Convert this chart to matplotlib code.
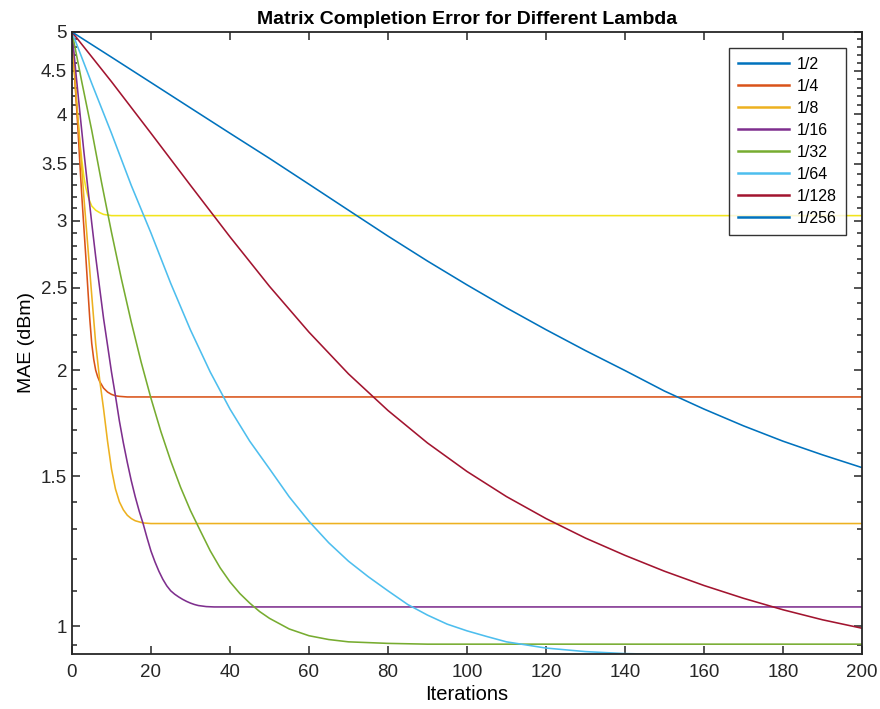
import matplotlib
matplotlib.use("Agg")
import matplotlib.pyplot as plt
from matplotlib.lines import Line2D
from matplotlib.ticker import FixedLocator, NullFormatter

plt.rcParams['font.family'] = ['Liberation Sans', 'DejaVu Sans']

# values (MAE in dBm vs. iteration)
labels = ['1/2', '1/4', '1/8', '1/16', '1/32', '1/64', '1/128', '1/256']
legend_colors = ['#0072BD', '#D95319', '#EDB120', '#7E2F8E',
                 '#77AC30', '#4DBEEE', '#A2142F', '#0072BD']
line_colors = ['#F2E41C', '#D95319', '#EDB120', '#7E2F8E',
               '#77AC30', '#4DBEEE', '#A2142F', '#0072BD']

x_half = [0, 0.5, 1, 1.5, 2, 2.5, 3, 3.5, 4, 4.5, 5, 6, 7, 8, 9, 10, 200]
y_half = [5, 4.55, 4.2, 3.93, 3.7, 3.53, 3.38, 3.28, 3.21, 3.16, 3.12, 3.085,
          3.065, 3.05, 3.045, 3.04, 3.04]

x_quarter = [0, 0.5, 1, 1.5, 2, 2.5, 3, 3.5, 4, 4.5, 5, 5.5, 6, 6.5, 7, 8, 9, 10,
             11, 12, 14, 200]
y_quarter = [5, 4.6, 4.2, 3.85, 3.5, 3.2, 2.95, 2.72, 2.5, 2.3, 2.15, 2.06, 2.0,
             1.965, 1.94, 1.905, 1.885, 1.873, 1.866, 1.863, 1.86, 1.86]

x_eighth = [0, 1, 2, 3, 4, 5, 6, 7, 8, 9, 10, 11, 12, 13, 14, 15, 16, 18, 20, 200]
y_eighth = [5, 4.25, 3.7, 3.2, 2.8, 2.45, 2.15, 1.95, 1.8, 1.65, 1.53, 1.45, 1.40,
            1.37, 1.35, 1.338, 1.33, 1.322, 1.32, 1.32]

x_16 = [0, 1, 2, 3, 4, 5, 6, 7, 8, 9, 10, 11, 12, 13, 14, 15, 16, 17, 18, 19,
        20, 21, 22, 23, 24, 25, 26, 27, 28, 29, 30, 31, 32, 34, 36, 200]
y_16 = [5, 4.47, 4.02, 3.62, 3.28, 2.98, 2.72, 2.5, 2.3, 2.14, 1.99, 1.866,
        1.743, 1.643, 1.558, 1.483, 1.42, 1.366, 1.32, 1.27, 1.225, 1.19, 1.16,
        1.135, 1.115, 1.1, 1.09, 1.082, 1.075, 1.069, 1.064, 1.06, 1.057, 1.054,
        1.053, 1.053]

x_32 = [0, 2.5, 5, 7.5, 10, 12.5, 15, 17.5, 20, 22.5, 25, 27.5, 30, 32.5, 35,
        37.5, 40, 42.5, 45, 47.5, 50, 55, 60, 65, 70, 80, 90, 200]
y_32 = [5, 4.364, 3.83, 3.323, 2.906, 2.562, 2.279, 2.045, 1.853, 1.694, 1.564,
        1.456, 1.367, 1.294, 1.226, 1.171, 1.127, 1.092, 1.064, 1.040, 1.021,
        0.992, 0.974, 0.964, 0.958, 0.954, 0.952, 0.952]

x_64 = [0, 5, 10, 15, 20, 25, 30, 35, 40, 45, 50, 55, 60, 65, 70, 75, 80, 85,
        90, 95, 100, 105, 110, 120, 130, 140, 150, 200]
y_64 = [5, 4.35, 3.8, 3.3, 2.9, 2.53, 2.23, 1.99, 1.80, 1.65, 1.531, 1.419,
        1.328, 1.253, 1.192, 1.143, 1.10, 1.06, 1.03, 1.005, 0.987, 0.972, 0.958,
        0.942, 0.933, 0.928, 0.926, 0.926]

x_128 = [0, 10, 20, 30, 40, 50, 60, 70, 80, 90, 100, 110, 120, 130, 140, 150,
         160, 170, 180, 190, 200]
y_128 = [5, 4.37, 3.80, 3.30, 2.87, 2.51, 2.217, 1.98, 1.793, 1.642, 1.52, 1.42,
         1.338, 1.269, 1.211, 1.16, 1.116, 1.078, 1.045, 1.017, 0.994]

x_256 = [0, 10, 20, 30, 40, 50, 60, 70, 80, 90, 100, 110, 120, 130, 140, 150,
         160, 170, 180, 190, 200]
y_256 = [5, 4.67, 4.36, 4.07, 3.80, 3.55, 3.31, 3.085, 2.876, 2.688, 2.52, 2.368,
         2.232, 2.109, 1.998, 1.89, 1.80, 1.72, 1.65, 1.59, 1.536]

xs = [x_half, x_quarter, x_eighth, x_16, x_32, x_64, x_128, x_256]
ys = [y_half, y_quarter, y_eighth, y_16, y_32, y_64, y_128, y_256]

y_ticks = [1, 1.5, 2, 2.5, 3, 3.5, 4, 4.5, 5]
y_tick_labels = ['1', '1.5', '2', '2.5', '3', '3.5', '4', '4.5', '5']
y_minor = [0.95, 1.1, 1.2, 1.3, 1.4, 1.6, 1.7, 1.8, 1.9, 2.1, 2.2, 2.3, 2.4, 2.6,
           2.7, 2.8, 2.9, 3.1, 3.2, 3.3, 3.4, 3.6, 3.7, 3.8, 3.9, 4.1, 4.2, 4.3,
           4.4, 4.6, 4.7, 4.8, 4.9]
x_ticks = [0, 20, 40, 60, 80, 100, 120, 140, 160, 180, 200]

fig = plt.figure(figsize=(8.8, 7.09), dpi=100)
ax = fig.add_axes([0.0818, 0.0776, 0.8977, 0.8773])

for x, y, c in zip(xs, ys, line_colors):
    ax.plot(x, y, color=c, linewidth=1.15)

ax.set_yscale('log')
ax.set_xlim(0, 200)
ax.set_ylim(0.927, 5)
ax.yaxis.set_major_locator(FixedLocator(y_ticks))
ax.yaxis.set_minor_locator(FixedLocator(y_minor))
ax.yaxis.set_minor_formatter(NullFormatter())
ax.set_yticks(y_ticks)
ax.set_yticklabels(y_tick_labels)
ax.set_xticks(x_ticks)

ax.tick_params(which='both', direction='in', top=True, right=True,
               colors='#262626', labelsize=13.5, width=1.1)
ax.tick_params(which='major', length=6)
ax.tick_params(which='minor', length=3.5)
ax.tick_params(axis='x', pad=7)
for s in ax.spines.values():
    s.set_linewidth(1.3)
    s.set_color('#262626')

ax.set_title('Matrix Completion Error for Different Lambda', fontsize=14,
             fontweight='bold', pad=6)
ax.set_xlabel('Iterations', fontsize=14.5, labelpad=3)
ax.set_ylabel('MAE (dBm)', fontsize=14, labelpad=4)

handles = [Line2D([0], [0], color=c, linewidth=1.8) for c in legend_colors]
leg = ax.legend(handles, labels, loc='upper right', fontsize=11.5,
                frameon=True, fancybox=False, edgecolor='black',
                handlelength=3.2, handletextpad=0.5, labelspacing=0.44,
                borderaxespad=1.0, borderpad=0.55)
leg.get_frame().set_linewidth(1.0)

plt.savefig('out.png', dpi=100)
